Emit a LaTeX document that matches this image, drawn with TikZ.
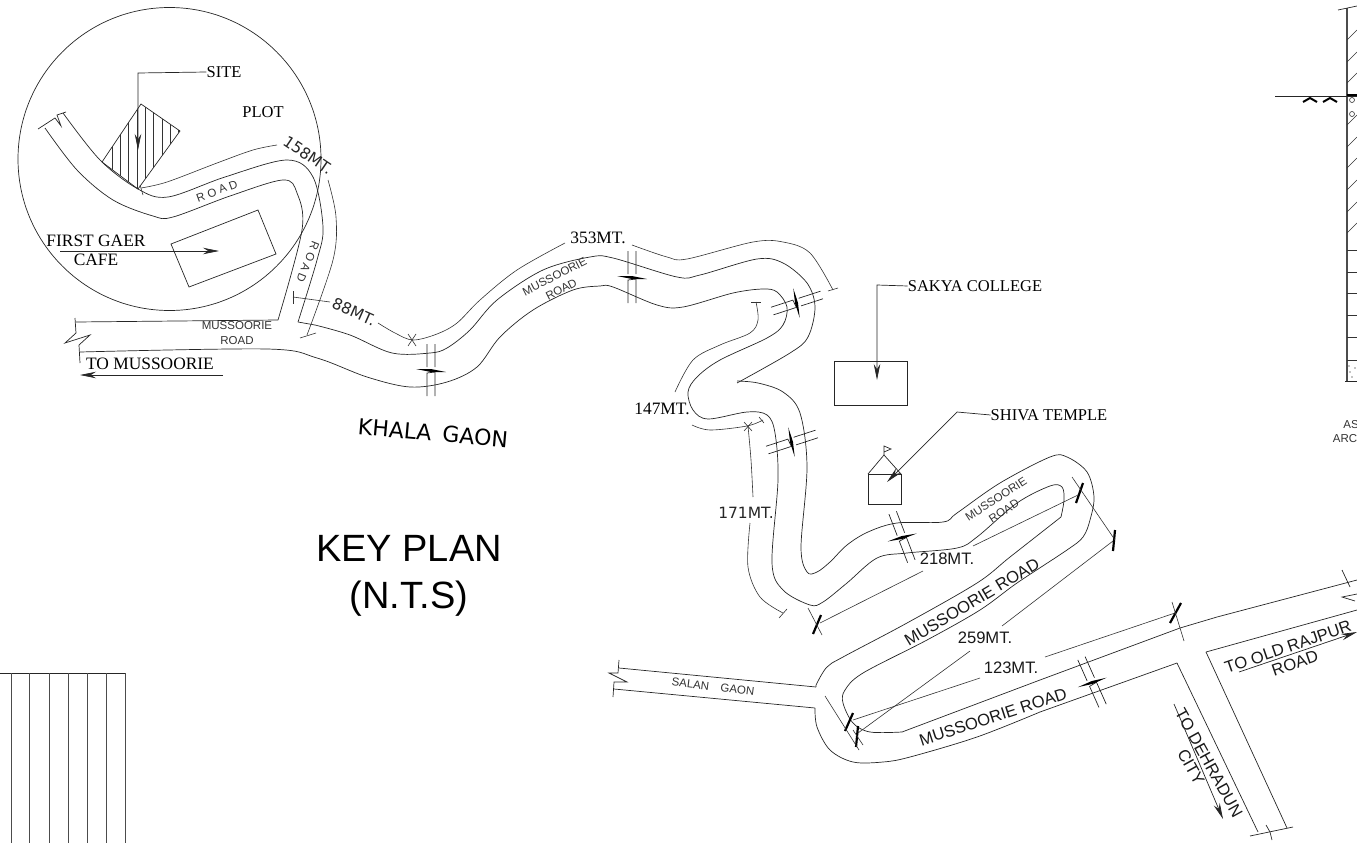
\documentclass[tikz,border=0pt]{standalone}
\usepackage{fontspec}
\setmainfont{Liberation Serif}
\setsansfont{Liberation Sans}
\newfontfamily\dejavu{DejaVu Sans}
\usetikzlibrary{arrows.meta,positioning,calc}
\tikzset{
    pics/roadbreak/.style={code={
        \draw[road] (-4,-26) -- (-4,-3) (4,-26) -- (4,-3) (-4,26) -- (-4,3) -- (4,2) -- (4,26);
        \fill[black] (-15,-1) -- (0,-1) -- (15,2) -- (0,2) -- cycle;
    }}
}
\begin{document}
\begin{tikzpicture}[x=1pt,y=-1pt,
    road/.style={line width=0.7pt,black!85},
    dim/.style={line width=0.6pt,black!80},
    thicktick/.style={line width=2.2pt,black},
    leader/.style={line width=0.7pt,black!85,-{Stealth[length=16pt,width=6.5pt]}},
    serifl/.style={font=\fontsize{16.5}{19}\selectfont,align=center,inner sep=0pt},
    serifb/.style={font=\fontsize{17.4}{19}\selectfont,align=center,inner sep=0pt},
    sansl/.style={font=\sffamily\fontsize{16.6}{19}\selectfont,black!90,align=center,inner sep=0pt},
    dvl/.style={font=\dejavu\fontsize{15.5}{17}\selectfont,black!85,align=center,inner sep=0pt},
    tinyl/.style={font=\sffamily\fontsize{11.5}{14.5}\selectfont,black!80,align=center,inner sep=0pt}]

    \useasboundingbox (0,0) rectangle (1357,843);
    \clip (0,0) rectangle (1357,843);

    % Inset
    \draw[road] (169.5,159) circle (151.5);
    \draw[road] (141,104) -- (180,131) -- (138,189) -- (102,162) -- cycle;
    \begin{scope}
        \clip (141,104) -- (180,131) -- (138,189) -- (102,162) -- cycle;
        \foreach \hx in {112,120,128,137,145,153,162,170,178}
            \draw[dim] (\hx,100) -- (\hx,195);
    \end{scope}
    \draw[road] (171,244) -- (258,210) -- (276,254) -- (189,287) -- cycle;

    % Road edges
    \draw[road] plot[smooth,tension=0.55] coordinates {(63,113) (100,160) (138,189) (168,197) (225,177) (287,160) (313,177) (323,227) (317,260) (298,322)};
    \draw[road] plot[smooth,tension=0.55] coordinates {(45,128) (77,170) (113,200) (153,216) (173,217) (230,196) (283,180) (297,193) (302,230) (278,320)};
    \draw[road] (278,320) -- (76,322);
    \draw[road] (298,322) -- (315,325);
    \draw[road] plot[smooth,tension=0.55] coordinates {(315,325) (350,335) (392,353) (430,353) (447,348) (470,330) (497,300) (543,270) (590,257) (613,258) (677,277) (700,275) (757,259) (783,263) (807,283) (815,307) (808,337) (790,353) (737,383)};
    \draw[road] plot[smooth,tension=0.55] coordinates {(737,381) (758,383) (783,392) (800,413) (807,467) (801,547) (807,572) (817,572) (830,562) (847,545) (868,532) (897,523) (943,522) (957,513) (1000,483) (1050,457) (1067,457) (1087,472) (1094,497) (1090,520) (1083,537) (1067,550) (1017,583) (980,610) (927,640) (863,673) (845,690) (843,703) (853,723) (870,732) (902,732)};
    \draw[road] (902,732) -- (1040,680) -- (1180,628) -- (1217,617) -- (1357,580);
    \draw[road] plot[smooth,tension=0.55] coordinates {(80,352) (267,349) (317,358) (367,377) (410,387) (447,382) (477,367) (500,337) (533,310) (573,290) (600,286) (613,287) (657,305) (683,307) (733,293) (763,289) (777,292) (787,307) (783,325) (767,338) (720,360) (697,377) (688,392) (693,410) (708,419) (747,412) (767,415) (775,433) (778,480) (772,563) (783,590) (810,605) (823,602) (847,583) (877,558) (907,553) (957,548) (977,537) (1017,503) (1050,486) (1062,487) (1064,500) (1061,517)};
    \draw[road] plot[smooth,tension=0.55] coordinates {(1061,517) (1010,557) (977,583) (907,623) (843,657) (827,667) (817,683) (816,687)};
    \draw[road] plot[smooth,tension=0.55] coordinates {(815,708) (817,727) (830,750) (853,762) (883,762) (910,757) (977,737) (1040,712)};
    \draw[road] (1040,712) -- (1177,663);

    % Salan Gaon and junction
    \draw[road] (619,668) -- (816,687);
    \draw[road] (614,689) -- (815,708);
    \draw[road] (619,660) -- (618,673) -- (609,673) -- (627,682) -- (614,682) -- (613,697);
    \draw[road] (1177,663) -- (1258,832);
    \draw[road] (1206,652) -- (1287,828);
    \draw[road] (1206,652) -- (1357,610);
    \draw[road] (1250,836) -- (1293,827);
    \draw[road] (1266,825) -- (1270,832) -- (1272,840);
    \draw[road] (1342,570) -- (1350,587);
    \draw[road] (1357,594) -- (1342,597) -- (1355,601);

    % Road ends
    \draw[road] (38,129) -- (55,118) -- (61,126) -- (57,115) -- (66,112);
    \draw[road] (75,318) -- (76,333) -- (65,343) -- (90,335) -- (79,345) -- (80,363);

    % Breaks
    \pic at (431,370) {roadbreak};
    \pic at (632,277) {roadbreak};
    \pic[rotate=-72] at (797,303) {roadbreak};
    \pic[rotate=-72] at (792,442) {roadbreak};
    \pic[rotate=21] at (902,537) {roadbreak};
    \pic[rotate=24] at (1092,682) {roadbreak};

    % Annotations
    \node[serifl] (sitelabel) at (224,72) {SITE};
    \node[serifl] (plotlabel) at (263,112) {PLOT};
    \node[serifb] (cafelabel) at (96,250) {FIRST GAER\\CAFE};
    \node[serifb] (tomus) at (150,364) {TO MUSSOORIE};
    \node[serifl] (sakya) at (975,286) {SAKYA COLLEGE};
    \node[serifl] (shiva) at (1049,415) {SHIVA TEMPLE};
    \node[serifb] (dimA) at (598,238) {353MT.};
    \node[serifb] (dimB) at (662,409) {147MT.};
    \node[dvl,rotate=-34] (dimC) at (308,155) {158MT.};
    \node[dvl,rotate=-24] (dimD) at (354,312) {88MT.};
    \node[dvl] (dimE) at (746,513) {171MT.};
    \node[sansl] (dimF) at (947,559) {218MT.};
    \node[sansl] (dimG) at (985,638) {259MT.};
    \node[sansl] (dimH) at (1011,668) {123MT.};
    \node[tinyl,rotate=20] (roadA) at (217,191) {R O A D};
    \node[tinyl,rotate=-112] (roadB) at (308,262) {R O A D};
    \node[tinyl] (musA) at (237,333) {MUSSOORIE\\ROAD};
    \node[tinyl,rotate=27] (musB) at (558,283) {MUSSOORIE\\ROAD};
    \node[tinyl,rotate=33] (musC) at (1000,505) {MUSSOORIE\\ROAD};
    \node[tinyl,rotate=-7] (salan) at (713,687) {SALAN\quad GAON};
    \node[sansl,rotate=31] (musD) at (972,602) {MUSSOORIE ROAD};
    \node[sansl,rotate=18] (musE) at (993,717) {MUSSOORIE ROAD};
    \node[sansl,rotate=19] (rajpur) at (1288,647) {TO OLD RAJPUR};
    \node[sansl,rotate=19] (rajpurb) at (1295,663) {ROAD};
    \node[sansl,rotate=-61] (dehra) at (1209,763) {TO DEHRADUN};
    \node[sansl,rotate=-61] (dehrab) at (1191,767) {CITY};
    \node[font=\dejavu\fontsize{22}{26}\selectfont,rotate=-5,inner sep=0pt] (khala) at (433,433) {KHALA\enspace GAON};
    \node[font=\sffamily\fontsize{38}{47}\selectfont,align=center,inner sep=0pt] (keyplan) at (409,576) {KEY PLAN\\(N.T.S)};

    % Leaders
    \coordinate (sitetip) at (138,150);
    \coordinate (sakyatip) at (877,380);
    \coordinate (shivatip) at (887,482);
    \draw[leader] (sitelabel.west) -- (138,73) -- (sitetip);
    \draw[leader] (sakya.west) -- (877,285) -- (sakyatip);
    \draw[leader] (shiva.west) -- (957,412) -- (shivatip);
    \coordinate (cafefrom) at (60,251);
    \coordinate (cafetip) at (219,251);
    \draw[leader] (cafefrom) -- (cafetip);
    \coordinate (tomusfrom) at (223,375);
    \coordinate (tomustip) at (80,375);
    \draw[leader] (tomusfrom) -- (tomustip);
    \coordinate (rajpurfrom) at (1239,672);
    \coordinate (rajpurtip) at (1357,632);
    \draw[leader] (rajpurfrom) -- (rajpurtip);
    \coordinate (dehrafrom) at (1174,704);
    \coordinate (dehratip) at (1223,819);
    \draw[leader] (dehrafrom) -- (dehratip);

    % College and temple
    \draw[road] (834,361) rectangle (907,405);
    \draw[road] (868,474) rectangle (901,504);
    \draw[road] (868,474) -- (884,455) -- (901,474);
    \draw[road] (884,455) -- (884,446) -- (891,449) -- (884,452);

    % Dimension lines
    \draw[dim] plot[smooth,tension=0.55] coordinates {(141,188) (167,182) (217,163) (253,150) (277,145)};
    \draw[dim] (140,185) -- (143,195);
    \draw[dim] plot[smooth,tension=0.55] coordinates {(328,180) (336,217) (333,260) (307,335)};
    \draw[dim] (293,297) -- (330,302);
    \draw[dim] (293,291) -- (293,304);
    \draw[dim] (300,338) -- (316,333);
    \draw[dim] plot[smooth,tension=0.55] coordinates {(378,323) (395,333) (413,340) (437,334) (457,323) (480,300) (517,270) (565,243)};
    \draw[dim] (408,334) -- (416,346) (416,334) -- (408,346);
    \draw[dim] plot[smooth,tension=0.55] coordinates {(632,245) (667,257) (687,259) (753,242) (783,242) (810,253) (833,290)};
    \draw[dim] (828,291) -- (838,288);
    \draw[dim] plot[smooth,tension=0.55] coordinates {(756,302) (758,320) (750,333) (720,345) (693,360) (675,392)};
    \draw[dim] (751,302) -- (761,302);
    \draw[dim] plot[smooth,tension=0.55] coordinates {(692,425) (710,430) (747,426) (763,420)};
    \draw[dim] (744,422) -- (752,431) (752,422) -- (744,431) (759,417) -- (764,423);
    \draw[dim] plot[smooth,tension=0.55] coordinates {(748,426) (751,460) (753,497)};
    \draw[dim] plot[smooth,tension=0.55] coordinates {(750,523) (748,567) (760,597) (783,613)};
    \draw[dim] (779,618) -- (787,609);

    % 218 / 259 / 123 dimension ticks
    \draw[thicktick] (813,634) -- (821,615);
    \draw[thicktick] (1076,503) -- (1083,483);
    \draw[thicktick] (1115,530) -- (1113,551);
    \draw[thicktick] (1170,623) -- (1181,603);
    \draw[thicktick] (845,731) -- (853,713);
    \draw[thicktick] (856,747) -- (858,726);
    \draw[dim] (808,608) -- (822,635);
    \draw[dim] (1072,477) -- (1115,540);
    \draw[dim] (1172,602) -- (1184,641);
    \draw[dim] (825,696) -- (859,750);
    \draw[dim] (853,730) -- (863,745);
    \draw[dim] (1078,495) -- (973,546);
    \draw[dim] (923,571) -- (820,623);
    \draw[dim] (1113,541) -- (1002,626);
    \draw[dim] (970,651) -- (858,733);
    \draw[dim] (1175,613) -- (1045,657);
    \draw[dim] (980,678) -- (853,720);

    % Section at the right edge
    \draw[line width=1.6pt,black!70] (1347,8) -- (1347,381);
    \draw[road] (1275,96) -- (1357,96);
    \draw[road] (1338,10) -- (1357,6);
    \draw[road] (1345,381) -- (1357,381);
    \draw[line width=2.4pt] (1347,95) -- (1357,95);
    \foreach \ty in {40,62,83,125,147,168,190,212,233}
        \draw[dim] (1347,\ty) -- (1357,\ty-10);
    \foreach \ty in {250,272,293,315,337,360}
        \draw[dim] (1347,\ty) -- (1357,\ty);
    \draw[dim] (1352,100) circle (2.5);
    \draw[dim] (1352,114) circle (2.5);
    \foreach \dx/\dy in {1349/366,1350/372,1352/377,1355/368}
        \fill (\dx,\dy) circle (0.6);
    \draw[line width=2pt] (1303,102) -- (1310,98) -- (1317,102) (1323,102) -- (1330,98) -- (1337,102);
    \node[tinyl] (asl) at (1351,425) {AS};
    \node[tinyl] (arcl) at (1345,439) {ARC};

    % Building corner
    \draw[road] (0,673) -- (125,673);
    \foreach \gx in {11,29,49,68,87,106,125}
        \draw[line width=0.9pt,black!70] (\gx,673) -- (\gx,843);

\end{tikzpicture}
\end{document}
